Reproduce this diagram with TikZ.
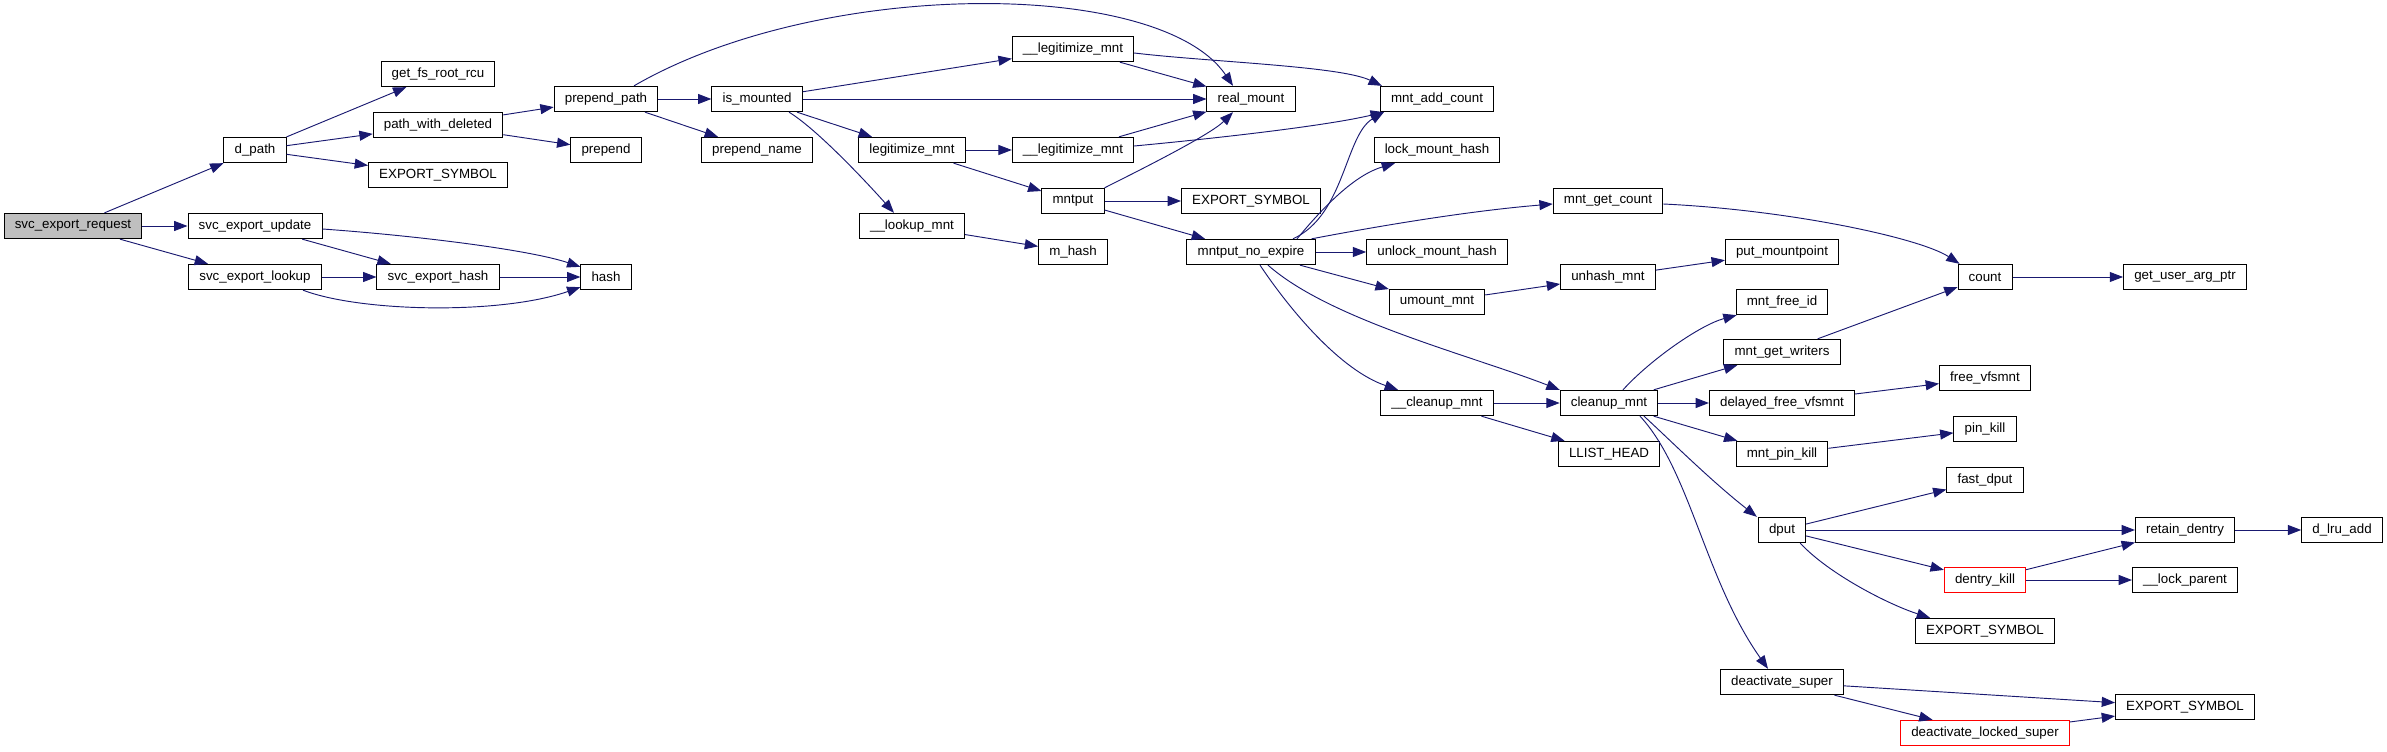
\documentclass[tikz,border=0pt]{standalone}
\usepackage{fontspec}
\setmainfont{Liberation Sans}
\usetikzlibrary{arrows.meta,calc}
\definecolor{edgeblue}{RGB}{25,25,112}
\definecolor{rootgray}{RGB}{191,191,191}
\begin{document}
\begin{tikzpicture}[x=0.75pt,y=-0.75pt,
  fn/.style={draw=black,line width=0.75pt,fill=white,minimum height=19pt,
    inner xsep=8pt,inner ysep=0pt,font=\fontsize{10pt}{12pt}\selectfont},
  root/.style={fn,fill=rootgray},
  trunc/.style={fn,draw=red},
  call/.style={draw=edgeblue,line width=0.7pt,-{Triangle[length=10pt,width=7.5pt]}}]
  \useasboundingbox (0,0) rectangle (2387,752);
  % Functions, column by column
  \node[root] (req) at (73,226) {svc\_export\_request};
  \node[fn] (dpath) at (255,150) {d\_path};
  \node[fn] (upd) at (255,226) {svc\_export\_update};
  \node[fn] (lookup) at (255,277) {svc\_export\_lookup};
  \node[fn] (gfsr) at (438,74) {get\_fs\_root\_rcu};
  \node[fn] (pwd) at (438,125) {path\_with\_deleted};
  \node[fn] (exportA) at (438,175) {EXPORT\_SYMBOL};
  \node[fn] (shash) at (438,277) {svc\_export\_hash};
  \node[fn] (ppath) at (606,99) {prepend\_path};
  \node[fn] (prep) at (606,150) {prepend};
  \node[fn] (hash) at (606,277) {hash};
  \node[fn] (ismnt) at (757,99) {is\_mounted};
  \node[fn] (pname) at (757,150) {prepend\_name};
  \node[fn] (legit) at (912,150) {legitimize\_mnt};
  \node[fn] (lookupmnt) at (912,226) {\_\_lookup\_mnt};
  \node[fn] (ulegitA) at (1073,49) {\_\_legitimize\_mnt};
  \node[fn] (ulegitB) at (1073,150) {\_\_legitimize\_mnt};
  \node[fn] (mntput) at (1073,201) {mntput};
  \node[fn] (mhash) at (1073,252) {m\_hash};
  \node[fn] (realmnt) at (1251,99) {real\_mount};
  \node[fn] (exportB) at (1251,201) {EXPORT\_SYMBOL};
  \node[fn] (mnte) at (1251,252) {mntput\_no\_expire};
  \node[fn] (addcnt) at (1437,99) {mnt\_add\_count};
  \node[fn] (lockmh) at (1437,150) {lock\_mount\_hash};
  \node[fn] (unlockmh) at (1437,252) {unlock\_mount\_hash};
  \node[fn] (umnt) at (1437,302) {umount\_mnt};
  \node[fn] (ucleanup) at (1437,403) {\_\_cleanup\_mnt};
  \node[fn] (getcnt) at (1608,201) {mnt\_get\_count};
  \node[fn] (unhash) at (1608,277) {unhash\_mnt};
  \node[fn] (cleanup) at (1609,403) {cleanup\_mnt};
  \node[fn] (llist) at (1609,454) {LLIST\_HEAD};
  \node[fn] (putmp) at (1782,252) {put\_mountpoint};
  \node[fn] (freeid) at (1782,302) {mnt\_free\_id};
  \node[fn] (getwr) at (1782,352) {mnt\_get\_writers};
  \node[fn] (dfree) at (1782,403) {delayed\_free\_vfsmnt};
  \node[fn] (mpinkill) at (1782,454) {mnt\_pin\_kill};
  \node[fn] (dput) at (1782,530) {dput};
  \node[fn] (deact) at (1782,682) {deactivate\_super};
  \node[fn] (count) at (1985,277) {count};
  \node[fn] (freevfs) at (1985,378) {free\_vfsmnt};
  \node[fn] (pinkill) at (1985,429) {pin\_kill};
  \node[fn] (fastdput) at (1985,480) {fast\_dput};
  \node[trunc] (dkill) at (1985,580) {dentry\_kill};
  \node[fn] (exportC) at (1985,631) {EXPORT\_SYMBOL};
  \node[trunc] (dlocked) at (1985,733) {deactivate\_locked\_super};
  \node[fn] (userarg) at (2185,277) {get\_user\_arg\_ptr};
  \node[fn] (retain) at (2185,530) {retain\_dentry};
  \node[fn] (lockpar) at (2185,580) {\_\_lock\_parent};
  \node[fn] (exportD) at (2185,707) {EXPORT\_SYMBOL};
  \node[fn] (lruadd) at (2342,530) {d\_lru\_add};
  % Straight calls
  \foreach \a/\b in {req/dpath,req/upd,req/lookup,dpath/gfsr,dpath/pwd,dpath/exportA,
      upd/shash,lookup/shash,shash/hash,pwd/ppath,pwd/prep,ppath/ismnt,ppath/pname,
      ismnt/ulegitA,ismnt/realmnt,ismnt/legit,ulegitA/realmnt,ulegitB/realmnt,
      legit/ulegitB,legit/mntput,lookupmnt/mhash,mntput/exportB,mntput/mnte,
      mnte/unlockmh,mnte/umnt,umnt/unhash,unhash/putmp,count/userarg,
      ucleanup/cleanup,ucleanup/llist,cleanup/getwr,cleanup/dfree,cleanup/mpinkill,
      getwr/count,dfree/freevfs,mpinkill/pinkill,dput/fastdput,dput/retain,dput/dkill,
      retain/lruadd,dkill/retain,dkill/lockpar,deact/exportD,deact/dlocked,dlocked/exportD}
    \draw[call] (\a) -- (\b);
  % Curved calls
  \draw[call] ($(ppath.north)+(28,0)$) .. controls (820,-22) and (1160,-22) .. ($(realmnt.north)+(-18,0)$);
  \draw[call] ($(upd.east)+(0,3)$) .. controls (420,236) and (530,250) .. ($(hash.north west)+(0,3)$);
  \draw[call] ($(lookup.south)+(48,0)$) .. controls (360,312) and (500,315) .. ($(hash.south west)+(0,-3)$);
  \draw[call] ($(ismnt.south)+(32,0)$) .. controls (815,128) and (860,175) .. ($(lookupmnt.north)+(-18,0)$);
  \draw[call] ($(ulegitA.east)+(0,4)$) .. controls (1210,62) and (1340,66) .. ($(addcnt.north west)+(2,0)$);
  \draw[call] ($(ulegitB.east)+(0,-4)$) .. controls (1230,137) and (1330,125) .. ($(addcnt.south west)+(4,0)$);
  \draw[call] (mntput.north east) .. controls (1140,170) and (1210,135) .. ($(realmnt.south)+(-18,0)$);
  \draw[call] ($(mnte.north)+(42,0)$) .. controls (1345,215) and (1345,135) .. ($(addcnt.south west)+(4,0)$);
  \draw[call] ($(mnte.north)+(46,0)$) .. controls (1325,205) and (1355,175) .. ($(lockmh.south)+(-42,0)$);
  \draw[call] ($(mnte.north east)+(-4,0)$) .. controls (1400,222) and (1480,210) .. ($(getcnt.west)+(0,3)$);
  \draw[call] ($(mnte.south)+(9,0)$) .. controls (1290,310) and (1340,370) .. ($(ucleanup.north)+(-39,0)$);
  \draw[call] ($(mnte.south)+(17,0)$) .. controls (1330,320) and (1470,355) .. (cleanup.north west);
  \draw[call] ($(getcnt.east)+(0,3)$) .. controls (1790,210) and (1920,238) .. ($(count.north west)+(2,0)$);
  \draw[call] ($(cleanup.north)+(14,0)$) .. controls (1650,360) and (1700,325) .. ($(freeid.south west)+(1,0)$);
  \draw[call] ($(cleanup.south)+(35,0)$) .. controls (1670,440) and (1710,480) .. ($(dput.north west)+(-1,0)$);
  \draw[call] ($(cleanup.south)+(31,0)$) .. controls (1690,470) and (1705,580) .. ($(deact.north)+(-14,0)$);
  \draw[call] ($(dput.south east)+(-6,0)$) .. controls (1830,575) and (1890,605) .. ($(exportC.north west)+(15,0)$);
\end{tikzpicture}
\end{document}
